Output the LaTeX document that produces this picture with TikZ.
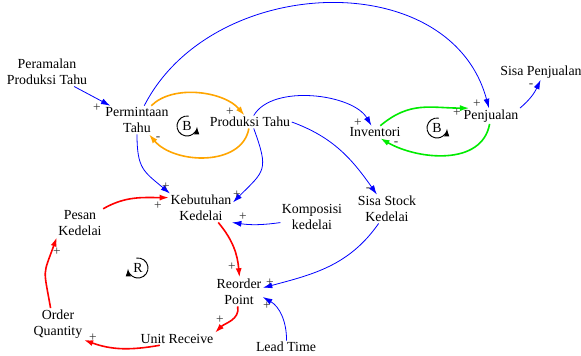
\documentclass[tikz,border=0pt]{standalone}
\usepackage{fontspec}
\setmainfont{Liberation Serif}
\usetikzlibrary{arrows.meta}
\begin{document}
\begin{tikzpicture}[x=0.75pt,y=0.75pt,
  var/.style={font=\fontsize{10.4}{12}\selectfont, align=center, inner sep=1pt},
  pol/.style={font=\fontsize{10}{12}\selectfont, text=black!80, inner sep=0pt},
  tip/.style={-{Latex[length=7pt,width=4.5pt]}},
  blink/.style={tip, draw=blue, line width=0.6pt},
  olink/.style={tip, draw={rgb,255:red,255;green,165;blue,0}, line width=1.2pt},
  glink/.style={tip, draw={rgb,255:red,0;green,235;blue,0}, line width=1.2pt},
  rlink/.style={tip, draw=red, line width=1.2pt},
  loopmark/.style={line width=0.7pt, -{Latex[length=6pt,width=4pt]}}]
\useasboundingbox (0,0) rectangle (581,355);

% variables
\node[var] (peram)  at (47,283)  {Peramalan\\Produksi Tahu};
\node[var] (perm)   at (137,235) {Permintaan\\Tahu};
\node[var] (prod)   at (250,233) {Produksi Tahu};
\node[var] (inv)    at (375,223) {Inventori};
\node[var] (penj)   at (491,239) {Penjualan};
\node[var] (sisap)  at (541,283) {Sisa Penjualan};
\node[var] (kebut)  at (201,147) {Kebutuhan\\Kedelai};
\node[var] (kompo)  at (312,138) {Komposisi\\kedelai};
\node[var] (sisas)  at (387,146) {Sisa Stock\\Kedelai};
\node[var] (pesan)  at (80,132)  {Pesan\\Kedelai};
\node[var] (reord)  at (239,63)  {Reorder\\Point};
\node[var] (orderq) at (58,31)   {Order\\Quantity};
\node[var] (unitr)  at (177,16)  {Unit Receive};
\node[var] (lead)   at (286,8)   {Lead Time};

% causal links
\draw[blink] (peram) -- (perm);
\draw[olink] (perm) to[out=45,in=130,looseness=0.85] (prod);
\draw[olink] (prod) to[out=-100,in=-50] (perm);
\draw[blink] (perm) to[out=63,in=105,looseness=1.1] (penj);
\draw[blink] (prod) to[out=60,in=120,looseness=0.8] (inv);
\draw[blink] (prod.east) to[out=-20,in=125] (sisas);
\draw[blink] (prod.-60) to[out=-70,in=45,looseness=1.5] (kebut.10);
\draw[blink] (perm) to[out=-90,in=140,looseness=1.3] (kebut.155);
\draw[glink] (inv.50) to[out=40,in=180,looseness=1.1] (penj.160);
\draw[glink] (penj.-100) to[out=-100,in=-30] (inv.-50);
\draw[blink] (penj.north east) to[out=40,in=-115] (sisap.-93);
\draw[blink] (kompo.190) to[bend left=8] (kebut.-25);
\draw[blink] (sisas.-120) to[out=-125,in=15] (reord.10);
\draw[blink] (lead.85) to[out=90,in=-30] (reord.-12);
\draw[rlink] (kebut.-40) to[out=-50,in=95] (reord.88);
\draw[rlink] (reord.-95) to[out=-80,in=45] (unitr.north east);
\draw[rlink] (unitr.200) to[out=190,in=-20] (orderq.south east);
\draw[rlink] (orderq.115) to[out=100,in=-110,looseness=1.5] (pesan.south west);
\draw[rlink] (pesan.north east) to[out=30,in=180] (kebut.162);

% polarities
\node[pol] (p1)  at (97,247)  {+};
\node[pol] (p2)  at (230,243) {+};
\node[pol] (p3)  at (158,216) {-};
\node[pol] (p4)  at (477,251) {+};
\node[pol] (p5)  at (358,232) {+};
\node[pol] (p6)  at (368,165) {-};
\node[pol] (p7)  at (237,160) {+};
\node[pol] (p8)  at (166,168) {+};
\node[pol] (p9)  at (457,242) {+};
\node[pol] (p10) at (396,211) {-};
\node[pol] (p11) at (531,269) {-};
\node[pol] (p12) at (243,138) {+};
\node[pol] (p13) at (270,72)  {+};
\node[pol] (p14) at (267,49)  {+};
\node[pol] (p15) at (232,88)  {+};
\node[pol] (p16) at (220,35)  {+};
\node[pol] (p17) at (93,17)   {+};
\node[pol] (p18) at (57,103)  {+};
\node[pol] (p19) at (158,149) {+};

% loop markers
\node[var] (b1) at (187,229) {B};
\draw[loopmark] ([shift={(80:10)}]b1.center) arc[start angle=80,end angle=358,radius=10];
\node[var] (b2) at (437,227) {B};
\draw[loopmark] ([shift={(80:10)}]b2.center) arc[start angle=80,end angle=358,radius=10];
\node[var] (r1) at (138,87) {R};
\draw[loopmark] ([shift={(100:10)}]r1.center) arc[start angle=100,end angle=-178,radius=10];
\end{tikzpicture}
\end{document}
